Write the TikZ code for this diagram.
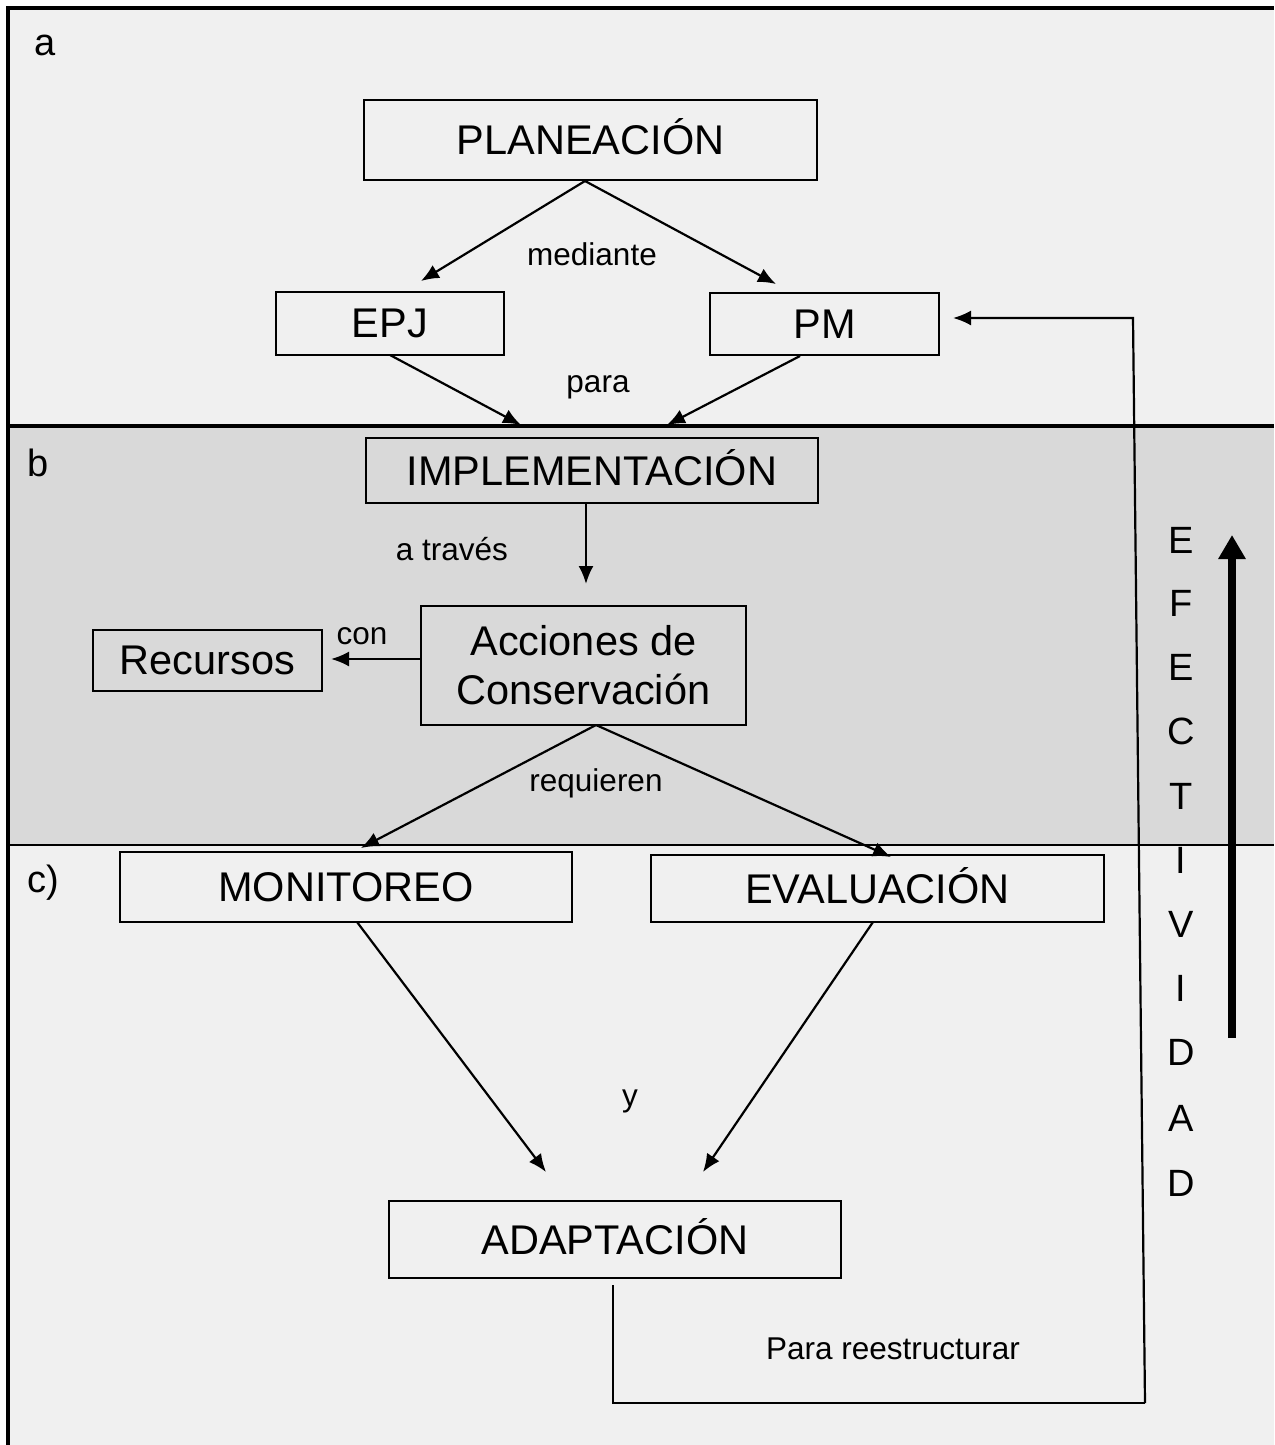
\documentclass[tikz,border=0pt]{standalone}
\usepackage{fontspec}
\setmainfont{Liberation Sans}
\usetikzlibrary{arrows.meta}
\begin{document}
\begin{tikzpicture}[x=1pt,y=-1pt,
  box/.style={draw=black,line width=2pt,anchor=north west,inner sep=0pt,align=center,font=\fontsize{41.5}{49}\selectfont},
  acc/.style={text height=30pt},
  lbl/.style={inner sep=0pt,font=\fontsize{31.5}{36}\selectfont},
  sec/.style={inner sep=0pt,font=\fontsize{38}{44}\selectfont},
  eff/.style={inner sep=0pt,font=\fontsize{38}{44}\selectfont},
  arr/.style={line width=2.2pt,-{Latex[length=18pt,width=15pt]}},
  fb/.style={line width=2.2pt}]
\useasboundingbox (0,0) rectangle (1274,1445);
% backgrounds
\fill[white] (0,0) rectangle (1274,1445);
\fill[black!6] (8,8) rectangle (1274,426);
\fill[black!15] (8,426) rectangle (1274,845);
\fill[black!6] (8,845) rectangle (1274,1445);
\draw[line width=4pt] (8,1445) -- (8,8) -- (1274,8);
\draw[line width=4pt] (8,426) -- (1274,426);
\draw[line width=2.5pt] (8,845) -- (1274,845);
% section labels
\node[sec] (sa) at (45,45) {a};
\node[sec] (sb) at (38,463) {b};
\node[sec] (sc) at (43,883) {c)};
% boxes
\node[box,acc,minimum width=453pt,minimum height=80pt] (plan) at (363,99) {PLANEACIÓN};
\node[box,minimum width=228pt,minimum height=63pt] (epj) at (275,291) {EPJ};
\node[box,minimum width=229pt,minimum height=62pt] (pm) at (709,292) {PM};
\node[box,acc,minimum width=452pt,minimum height=65pt] (impl) at (365,437) {IMPLEMENTACIÓN};
\node[box,minimum width=325pt,minimum height=119pt] (acc) at (420,605) {Acciones de\\Conservación};
\node[box,minimum width=229pt,minimum height=61pt] (rec) at (92,629) {Recursos};
\node[box,minimum width=452pt,minimum height=70pt] (mon) at (119,851) {MONITOREO};
\node[box,acc,minimum width=453pt,minimum height=67pt] (eva) at (650,854) {EVALUACIÓN};
\node[box,acc,minimum width=452pt,minimum height=77pt] (ada) at (388,1200) {ADAPTACIÓN};
% connector labels
\node[lbl] (tmed) at (592,254) {mediante};
\node[lbl] (tpara) at (598,387) {para};
\node[lbl] (tat) at (452,549) {a través};
\node[lbl] (tcon) at (362,636) {con};
\node[lbl] (treq) at (596,783) {requieren};
\node[lbl] (ty) at (630,1101) {y};
\node[lbl] (tpr) at (893,1349) {Para reestructurar};
% coordinates
\coordinate (pls) at (585,181);
\coordinate (e1) at (421,281);
\coordinate (e2) at (776,284);
\coordinate (epjs) at (390,355);
\coordinate (pms) at (800,356);
\coordinate (i1) at (521,425);
\coordinate (i2) at (667,425);
\coordinate (is) at (586,503);
\coordinate (ae) at (586,584);
\coordinate (aw) at (420,659);
\coordinate (re) at (331,659);
\coordinate (acs) at (596,725);
\coordinate (m1) at (361,848);
\coordinate (v1) at (891,857);
\coordinate (ms) at (357,922);
\coordinate (vs) at (873,922);
\coordinate (a1) at (546,1172);
\coordinate (a2) at (703,1172);
\coordinate (fbA) at (613,1285);
\coordinate (fbB) at (613,1403);
\coordinate (fbC) at (1145,1403);
\coordinate (fbD) at (1133,318);
\coordinate (fbE) at (953,318);
% arrows
\draw[arr] (pls) -- (e1);
\draw[arr] (pls) -- (e2);
\draw[arr] (epjs) -- (i1);
\draw[arr] (pms) -- (i2);
\draw[arr] (is) -- (ae);
\draw[arr] (aw) -- (re);
\draw[arr] (acs) -- (m1);
\draw[arr] (acs) -- (v1);
\draw[arr] (ms) -- (a1);
\draw[arr] (vs) -- (a2);
\draw[fb] (fbA) -- (fbB) -- (fbC);
\draw[arr] (fbC) -- (fbD) -- (fbE);
% EFECTIVIDAD
\node[eff] (l1) at (1181,540) {E};
\node[eff] (l2) at (1181,603) {F};
\node[eff] (l3) at (1181,667) {E};
\node[eff] (l4) at (1181,731) {C};
\node[eff] (l5) at (1181,796) {T};
\node[eff] (l6) at (1181,860) {I};
\node[eff] (l7) at (1181,924) {V};
\node[eff] (l8) at (1181,988) {I};
\node[eff] (l9) at (1181,1052) {D};
\node[eff] (l10) at (1181,1118) {A};
\node[eff] (l11) at (1181,1183) {D};
\coordinate (tb) at (1232,1038);
\coordinate (tt) at (1232,535);
\draw[line width=8pt,-{Triangle[length=24pt,width=26pt]}] (tb) -- (tt);
\end{tikzpicture}
\end{document}
